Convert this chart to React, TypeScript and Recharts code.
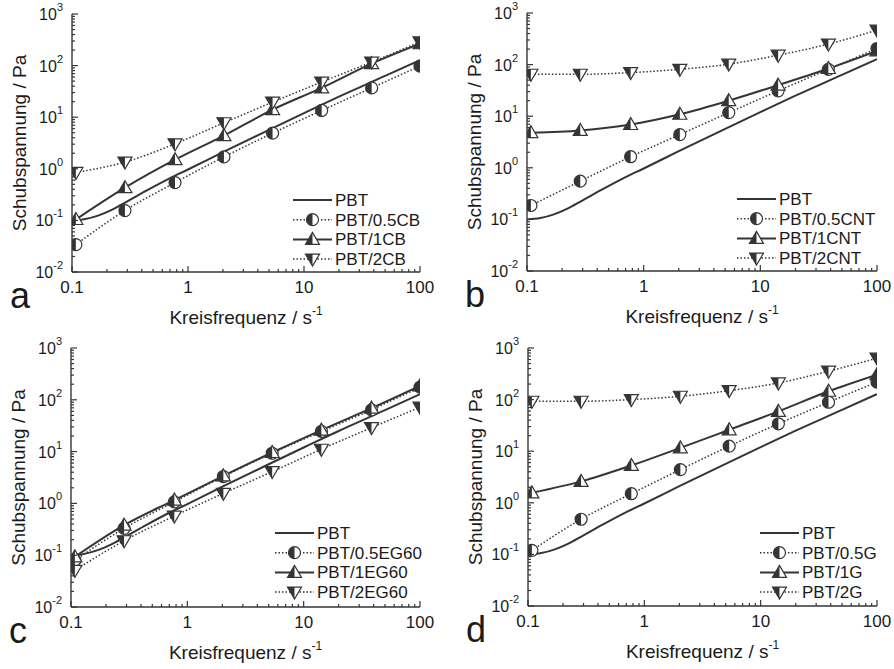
import React from "react";
import { LineChart, Line, XAxis, YAxis, Legend } from "recharts";

const INK = "#353535";
const TEXT = "#1a1a1a";
const FONT = "'Liberation Sans', Arial, sans-serif";

// shared sweep frequencies (s^-1) of the marked series
const freq = [0.108, 0.286, 0.773, 2.04, 5.36, 14.2, 38.3, 100];

// neat PBT reference curve, same in every panel
const pbtFreq = [0.1, 0.13, 0.17, 0.22, 0.3, 0.45, 0.7, 1, 2, 5, 10, 20, 50, 100];
const pbtStress = [0.1, 0.106, 0.125, 0.16, 0.235, 0.39, 0.66, 0.97, 2.1, 5.7, 12, 25, 63, 128];

// panel a: carbon black
const cbNames = ["PBT", "PBT/0.5CB", "PBT/1CB", "PBT/2CB"];
const cb05 = [0.034, 0.155, 0.54, 1.7, 4.9, 13.5, 37, 98];
const cb1 = [0.104, 0.43, 1.5, 4.4, 14, 37, 109, 265];
const cb2 = [0.85, 1.35, 3.05, 7.8, 19.6, 48, 117, 287];

// panel b: nanotubes
const cntNames = ["PBT", "PBT/0.5CNT", "PBT/1CNT", "PBT/2CNT"];
const cnt05 = [0.186, 0.55, 1.64, 4.4, 11.7, 31, 81, 205];
const cnt1 = [4.8, 5.3, 6.9, 10.9, 20, 40, 84, 185];
const cnt2 = [65, 65, 70, 81, 102, 152, 250, 465];

// panel c: expanded graphite
const egNames = ["PBT", "PBT/0.5EG60", "PBT/1EG60", "PBT/2EG60"];
const eg05 = [0.08, 0.33, 1.07, 3.3, 9.3, 24.5, 64, 176];
const eg1 = [0.093, 0.38, 1.16, 3.4, 9.6, 26, 69, 186];
const eg2 = [0.051, 0.19, 0.57, 1.56, 4.1, 11.1, 29, 72];

// panel d: graphene
const gNames = ["PBT", "PBT/0.5G", "PBT/1G", "PBT/2G"];
const g05 = [0.12, 0.48, 1.5, 4.4, 12.5, 34, 89, 218];
const g1 = [1.56, 2.6, 5.3, 11.6, 26, 59, 145, 305];
const g2 = [93, 93, 100, 116, 149, 210, 355, 635];

// axis decades, minor ticks at 2..9 of each decade
const xDecades = [0.1, 1, 10, 100];
const yDecades = [0.01, 0.1, 1, 10, 100, 1000];
const minorSteps = [1, 2, 3, 4, 5, 6, 7, 8, 9];

const withMinors = (decades: number[]) => {
  const out: number[] = [];
  decades.forEach((d, i) => {
    if (i === decades.length - 1) out.push(d);
    else minorSteps.forEach((m) => out.push(+(d * m).toPrecision(6)));
  });
  return out;
};
const xTicks = withMinors(xDecades);
const yTicks = withMinors(yDecades);

const isMajor = (v: number) => {
  const lg = Math.log10(v);
  return Math.abs(lg - Math.round(lg)) < 1e-6;
};

const pts = (xs: number[], ys: number[]) => xs.map((x, i) => ({ x, y: ys[i] }));

// half-filled symbols; on the right frame edge only the left (dark) half shows
function Marker({ cx, cy, kind, edge }: any) {
  if (cx == null || cy == null || isNaN(cx) || isNaN(cy)) return null;
  const cut = edge != null && cx >= edge - 0.5;
  if (kind === "circle") {
    const r = 6;
    const half = `M${cx},${cy - r} A${r},${r} 0 0 0 ${cx},${cy + r} Z`;
    return (
      <g>
        {!cut && <circle cx={cx} cy={cy} r={r} fill="#fff" stroke={INK} strokeWidth={1.2} />}
        <path d={half} fill={INK} stroke={INK} strokeWidth={cut ? 1.2 : 0} />
      </g>
    );
  }
  if (kind === "up") {
    const half = `${cx},${cy - 7} ${cx - 7},${cy + 5} ${cx},${cy + 5}`;
    return (
      <g>
        {!cut && (
          <polygon points={`${cx},${cy - 7} ${cx - 7},${cy + 5} ${cx + 7},${cy + 5}`} fill="#fff" stroke={INK} strokeWidth={1.2} />
        )}
        <polygon points={half} fill={INK} stroke={INK} strokeWidth={cut ? 1.2 : 0} />
      </g>
    );
  }
  const half = `${cx - 7},${cy - 5} ${cx},${cy - 5} ${cx},${cy + 7}`;
  return (
    <g>
      {!cut && (
        <polygon points={`${cx - 7},${cy - 5} ${cx + 7},${cy - 5} ${cx},${cy + 7}`} fill="#fff" stroke={INK} strokeWidth={1.2} />
      )}
      <polygon points={half} fill={INK} stroke={INK} strokeWidth={cut ? 1.2 : 0} />
    </g>
  );
}

const kinds = [null, "circle", "up", "down"];
const dashed = [false, true, false, true];

function XTick({ x, y, payload }: any) {
  const v = payload.value;
  const major = isMajor(v);
  return (
    <g>
      <line x1={x} x2={x} y1={y} y2={y - (major ? 6 : 3)} stroke={INK} strokeWidth={1.2} />
      {major && (
        <text x={x} y={y + 21} textAnchor="middle" fontSize={17} fill={TEXT} fontFamily={FONT}>
          {String(v)}
        </text>
      )}
    </g>
  );
}

function YTick({ x, y, payload }: any) {
  const v = payload.value;
  const major = isMajor(v);
  return (
    <g>
      <line x1={x} x2={x + (major ? 6 : 3)} y1={y} y2={y} stroke={INK} strokeWidth={1.2} />
      {major && (
        <text x={x - 9} y={y + 6} textAnchor="end" fontSize={16} fill={TEXT} fontFamily={FONT}>
          10
          <tspan fontSize={11} dy={-9}>
            {Math.round(Math.log10(v))}
          </tspan>
        </text>
      )}
    </g>
  );
}

function XTitle({ viewBox, letter }: any) {
  const { x, y, width } = viewBox;
  return (
    <g fontFamily={FONT} fill={TEXT}>
      <text x={x + width / 2} y={y + 52} textAnchor="middle" fontSize={19}>
        Kreisfrequenz / s
        <tspan fontSize={12} dy={-9}>
          -1
        </tspan>
      </text>
      <text x={x - 62} y={y + 36} fontSize={36}>
        {letter}
      </text>
    </g>
  );
}

function YTitle({ viewBox }: any) {
  const { x, y, width, height } = viewBox;
  const cx = x + width - 53;
  const cy = y + height / 2;
  return (
    <text
      x={cx}
      y={cy}
      transform={`rotate(-90 ${cx} ${cy})`}
      textAnchor="middle"
      dominantBaseline="central"
      fontSize={19}
      fill={TEXT}
      fontFamily={FONT}
    >
      Schubspannung / Pa
    </text>
  );
}

function LegendBox({ names }: { names: string[] }) {
  return (
    <svg width={150} height={82} style={{ display: "block" }}>
      {names.map((n, i) => {
        const cy = 10 + i * 19.7;
        return (
          <g key={n}>
            <line
              x1={0}
              x2={39}
              y1={cy}
              y2={cy}
              stroke={INK}
              strokeWidth={dashed[i] ? 1.5 : 2}
              strokeDasharray={dashed[i] ? "1.5 2" : undefined}
            />
            {kinds[i] && <Marker cx={19.5} cy={cy} kind={kinds[i]} />}
            <text x={42} y={cy + 6} fontSize={17} fill={TEXT} fontFamily={FONT}>
              {n}
            </text>
          </g>
        );
      })}
    </svg>
  );
}

type Panel = {
  letter: string;
  names: string[];
  series: number[][];
  left: number;
  top: number;
  width: number;
  height: number;
  mTop: number;
  mRight: number;
  yW: number;
  xH: number;
  legX: number;
  legY: number;
};

const panels: Panel[] = [
  { letter: "a", names: cbNames, series: [cb05, cb1, cb2], left: 0, top: 0, width: 450, height: 330, mTop: 14, mRight: 30, yW: 72, xH: 58, legX: 293, legY: 190 },
  { letter: "b", names: cntNames, series: [cnt05, cnt1, cnt2], left: 450, top: 0, width: 444, height: 330, mTop: 13, mRight: 17, yW: 77, xH: 59, legX: 287, legY: 189 },
  { letter: "c", names: egNames, series: [eg05, eg1, eg2], left: 0, top: 330, width: 450, height: 339, mTop: 18, mRight: 30, yW: 71, xH: 62, legX: 275, legY: 193 },
  { letter: "d", names: gNames, series: [g05, g1, g2], left: 450, top: 330, width: 444, height: 339, mTop: 18, mRight: 17, yW: 78, xH: 63, legX: 310, legY: 193 },
];

function PanelChart({ p }: { p: Panel }) {
  const edge = p.width - p.mRight;
  return (
    <div style={{ position: "absolute", left: p.left, top: p.top }}>
      <LineChart width={p.width} height={p.height} margin={{ top: p.mTop, right: p.mRight, left: 0, bottom: 0 }}>
        <XAxis
          dataKey="x"
          type="number"
          scale="log"
          domain={[0.1, 100]}
          ticks={xTicks}
          interval={0}
          allowDataOverflow
          height={p.xH}
          tickSize={0}
          tickMargin={0}
          tickLine={false}
          axisLine={{ stroke: INK, strokeWidth: 1.4 }}
          tick={(t: any) => <XTick {...t} />}
          label={<XTitle letter={p.letter} />}
        />
        <YAxis
          dataKey="y"
          type="number"
          scale="log"
          domain={[0.01, 1000]}
          ticks={yTicks}
          interval={0}
          allowDataOverflow
          width={p.yW}
          tickSize={0}
          tickMargin={0}
          tickLine={false}
          axisLine={{ stroke: INK, strokeWidth: 1.4 }}
          tick={(t: any) => <YTick {...t} />}
          label={<YTitle />}
        />
        <Legend
          layout="horizontal"
          verticalAlign="middle"
          align="center"
          wrapperStyle={{ left: p.legX, top: p.legY, width: 150, height: 82 }}
          content={() => <LegendBox names={p.names} />}
        />
        <Line
          data={pts(pbtFreq, pbtStress)}
          dataKey="y"
          name={p.names[0]}
          type="monotone"
          stroke={INK}
          strokeWidth={2}
          dot={false}
          isAnimationActive={false}
        />
        {p.series.map((vals, i) => (
          <Line
            key={p.names[i + 1]}
            data={pts(freq, vals)}
            dataKey="y"
            name={p.names[i + 1]}
            type="monotone"
            stroke={INK}
            strokeWidth={dashed[i + 1] ? 1.5 : 2}
            strokeDasharray={dashed[i + 1] ? "1.5 2" : undefined}
            dot={(d: any) => <Marker key={d.index} cx={d.cx} cy={d.cy} kind={kinds[i + 1]} edge={edge} />}
            activeDot={false}
            isAnimationActive={false}
          />
        ))}
      </LineChart>
    </div>
  );
}

export default function App() {
  return (
    <div style={{ position: "absolute", left: 0, top: 0, width: 894, height: 669, background: "#fff" }}>
      {panels.map((p) => (
        <PanelChart key={p.letter} p={p} />
      ))}
    </div>
  );
}
